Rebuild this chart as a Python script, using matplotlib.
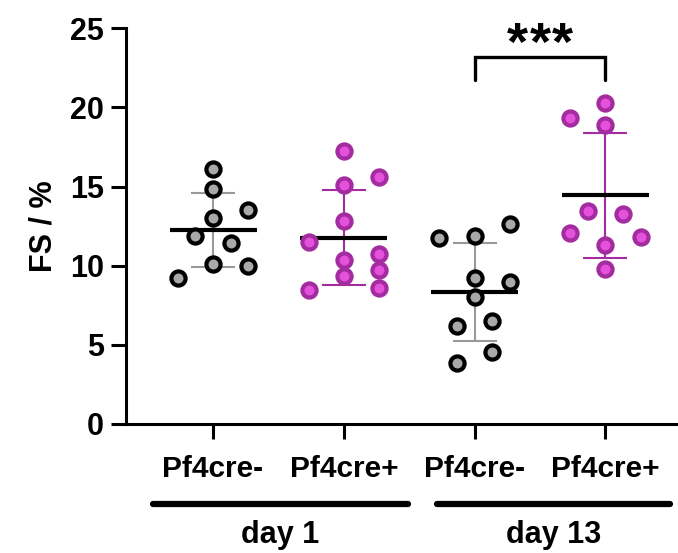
import matplotlib.pyplot as plt
import numpy as np

# Valores (FS / %)
grupos = ["Pf4cre-", "Pf4cre+", "Pf4cre-", "Pf4cre+"]
dias = ["day 1", "day 13"]

d1_neg = [16.10, 14.84, 13.51, 13.02, 11.87, 11.45, 10.10, 9.97, 9.24]
d1_pos = [17.23, 15.57, 15.09, 12.82, 11.51, 10.35, 10.71, 9.34, 9.72, 8.46, 8.60]
d13_neg = [11.76, 11.89, 12.61, 9.20, 8.98, 8.04, 6.21, 6.50, 4.56, 3.87]
d13_pos = [20.25, 19.30, 18.88, 13.45, 13.24, 12.04, 11.82, 11.30, 9.77]

# desplazamiento horizontal de cada punto (dispersión)
dx_d1_neg = [0, 0, 0.27, 0, -0.14, 0.135, 0, 0.27, -0.27]
dx_d1_pos = [0, 0.27, 0, 0, -0.27, 0, 0.27, 0, 0.27, -0.27, 0.27]
dx_d13_neg = [-0.27, 0, 0.27, 0, 0.27, 0, -0.135, 0.135, 0.135, -0.135]
dx_d13_pos = [0, -0.27, 0, -0.135, 0.135, -0.27, 0.27, 0, 0]

datos = [d1_neg, d1_pos, d13_neg, d13_pos]
desplaz = [dx_d1_neg, dx_d1_pos, dx_d13_neg, dx_d13_pos]

gris = ("#a9a9a9", "black", "#999999")
magenta = ("#e651dc", "#a32ca0", "#a32ca0")
estilos = [gris, magenta, gris, magenta]

plt.rcParams["font.family"] = ["Liberation Sans", "DejaVu Sans"]
plt.rcParams["font.weight"] = "bold"

fig = plt.figure(figsize=(6.78, 5.53), dpi=100)
ax = fig.add_axes([0.1858, 0.2333, 0.8112, 0.7157])

for i, (vals, dx, (relleno, borde, barra)) in enumerate(zip(datos, desplaz, estilos)):
    vals = np.array(vals)
    media = vals.mean()
    sd = vals.std(ddof=1)
    ax.errorbar(i, media, yerr=sd, color=barra, lw=1.5, capsize=16,
                capthick=1.5, zorder=2)
    ax.hlines(media, i - 0.333, i + 0.333, color="black", lw=3, zorder=3)
    ax.plot(i + np.array(dx), vals, "o", ms=10.2, mfc=relleno, mec=borde,
            mew=3, zorder=4, clip_on=False)

ax.set_ylim(0, 25)
ax.set_xlim(-0.666, 3.54)
ax.set_yticks([0, 5, 10, 15, 20, 25])
ax.set_xticks(range(4))
ax.set_xticklabels(grupos, fontsize=21.5)
ax.set_ylabel("FS / %", fontsize=22, fontweight="bold", labelpad=8)
ax.tick_params(width=2.2, length=11)
ax.tick_params(axis="y", labelsize=22, pad=5)
ax.tick_params(axis="x", pad=11)
for lado in ["top", "right"]:
    ax.spines[lado].set_visible(False)
for lado in ["left", "bottom"]:
    ax.spines[lado].set_linewidth(2.2)

# Corchete de significancia
ax.plot([2, 2, 3, 3], [21.7, 23.15, 23.15, 21.7], color="black", lw=2.4,
        clip_on=False, solid_capstyle="round", solid_joinstyle="miter")
for k in (-1, 0, 1):
    ax.text(2.5 + k * 0.175, 23.0, "*", ha="center", va="baseline",
            fontsize=39, fontweight="bold", clip_on=False)

# Líneas de agrupación por día
tr = ax.get_xaxis_transform()
for (x0, x1), dia in zip([(-0.461, 1.49), (1.714, 3.497)], dias):
    ax.plot([x0, x1], [-0.202, -0.202], color="black", lw=4.5,
            solid_capstyle="round", transform=tr, clip_on=False)
    ax.text((x0 + x1) / 2, -0.28, dia, ha="center", va="center",
            fontsize=22, fontweight="bold", transform=tr)

plt.savefig("out.png", dpi=100)
